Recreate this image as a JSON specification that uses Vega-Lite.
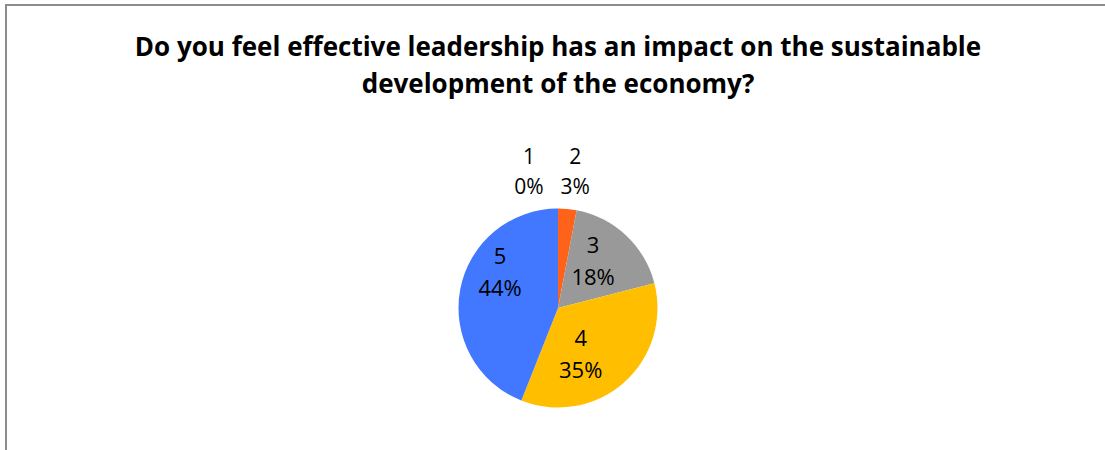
{
  "$schema": "https://vega.github.io/schema/vega-lite/v6.json",
  "autosize": "none",
  "width": 1104,
  "height": 606,
  "padding": {"left": 6, "top": 5, "right": 0, "bottom": 0},
  "background": "white",
  "view": {"stroke": "#8c8c8c", "strokeWidth": 2},
  "title": {
    "text": ["Do you feel effective leadership has an impact on the sustainable", "development of the economy?"],
    "orient": "top",
    "anchor": "middle",
    "frame": "group",
    "baseline": "top",
    "offset": -93,
    "font": "Open Sans",
    "fontSize": 26,
    "fontWeight": "bold",
    "color": "#000000",
    "lineHeight": 37
  },
  "data": {
    "values": [
      {"category": "1", "value": 0, "label": "1\n0%"},
      {"category": "2", "value": 3, "label": "2\n3%"},
      {"category": "3", "value": 18, "label": "3\n18%"},
      {"category": "4", "value": 35, "label": "4\n35%"},
      {"category": "5", "value": 44, "label": "5\n44%"}
    ]
  },
  "encoding": {
    "theta": {"field": "value", "type": "quantitative", "stack": true},
    "order": {"field": "category", "type": "ordinal"}
  },
  "layer": [
    {
      "mark": {"type": "arc", "radius": 99.5},
      "encoding": {
        "color": {
          "field": "category",
          "type": "nominal",
          "scale": {"domain": ["1", "2", "3", "4", "5"], "range": ["#5b9bd5", "#ff6319", "#999999", "#ffbf00", "#4178ff"]},
          "legend": null
        }
      }
    },
    {
      "mark": {"type": "text", "radius": 60, "dx": -6, "dy": -18, "font": "Open Sans", "fontSize": 22, "lineBreak": "\n", "lineHeight": 32, "color": "#000000", "baseline": "middle"},
      "encoding": {"text": {"condition": {"test": "datum.category == '3'", "field": "label", "type": "nominal"}, "value": ""}}
    },
    {
      "mark": {"type": "text", "radius": 60, "dx": -17, "dy": -14, "font": "Open Sans", "fontSize": 22, "lineBreak": "\n", "lineHeight": 32, "color": "#000000", "baseline": "middle"},
      "encoding": {"text": {"condition": {"test": "datum.category == '4'", "field": "label", "type": "nominal"}, "value": ""}}
    },
    {
      "mark": {"type": "text", "radius": 60, "dx": 1, "dy": -40, "font": "Open Sans", "fontSize": 22, "lineBreak": "\n", "lineHeight": 32, "color": "#000000", "baseline": "middle"},
      "encoding": {"text": {"condition": {"test": "datum.category == '5'", "field": "label", "type": "nominal"}, "value": ""}}
    },
    {
      "mark": {"type": "text", "radius": 150, "dx": -29, "font": "Open Sans", "fontSize": 21, "lineBreak": "\n", "lineHeight": 30, "color": "#000000", "baseline": "middle"},
      "encoding": {"text": {"condition": {"test": "datum.category == '1'", "field": "label", "type": "nominal"}, "value": ""}}
    },
    {
      "mark": {"type": "text", "radius": 151, "dx": 3, "font": "Open Sans", "fontSize": 21, "lineBreak": "\n", "lineHeight": 30, "color": "#000000", "baseline": "middle"},
      "encoding": {"text": {"condition": {"test": "datum.category == '2'", "field": "label", "type": "nominal"}, "value": ""}}
    }
  ]
}
